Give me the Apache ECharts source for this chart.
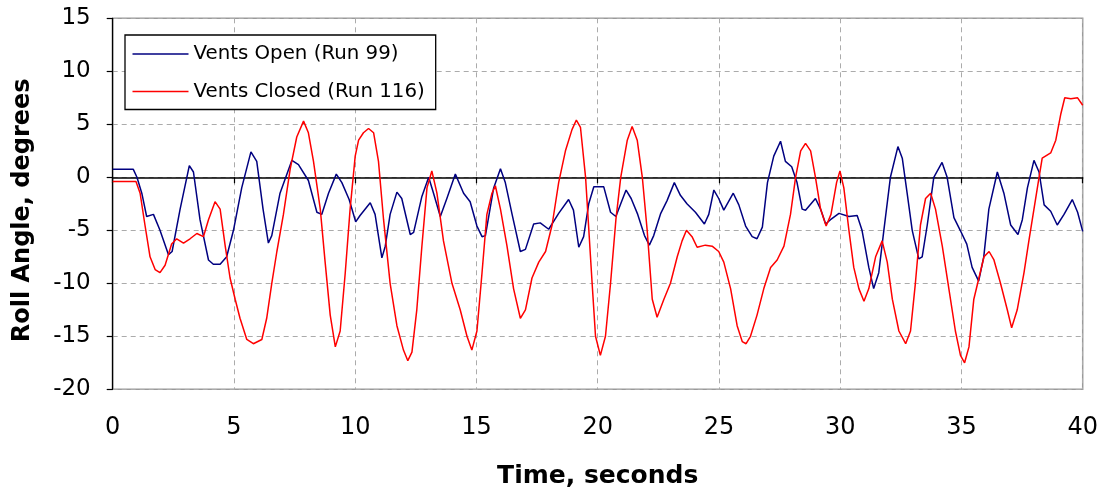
<!DOCTYPE html>
<html>
<head>
<meta charset="utf-8">
<script src="https://cdn.jsdelivr.net/npm/echarts@6/dist/echarts.min.js"></script>
<style>
  html, body { margin: 0; padding: 0; background: #ffffff; }
  #chart { width: 1107px; height: 495px; }
</style>
</head>
<body>
<div id="chart"></div>
<script>
// Roll angle time histories for two test runs
const seriesNames = ['Vents Open (Run 99)', 'Vents Closed (Run 116)'];

const openTime = [0, 0.85, 1.0, 1.2, 1.4, 1.68, 1.95, 2.3, 2.45, 2.78, 3.16, 3.33, 3.6, 3.95, 4.15, 4.43, 4.7, 4.98,
  5.32, 5.7, 5.94, 6.2, 6.42, 6.56, 6.9, 7.39, 7.66, 8.07, 8.42, 8.62, 8.9, 9.22, 9.45, 9.75, 10.02, 10.2,
  10.62, 10.82, 11.1, 11.24, 11.44, 11.72, 11.92, 12.27, 12.41, 12.75, 13.03, 13.23, 13.51, 13.78, 14.13,
  14.47, 14.74, 15.02, 15.23, 15.37, 15.71, 15.99, 16.19, 16.47, 16.81, 17.02, 17.36, 17.63, 17.98, 18.39,
  18.8, 19.0, 19.22, 19.42, 19.63, 19.84, 20.25, 20.53, 20.75, 20.95, 21.17, 21.38, 21.65, 21.93, 22.13,
  22.31, 22.6, 22.86, 23.16, 23.41, 23.68, 24.03, 24.4, 24.58, 24.79, 24.99, 25.2, 25.59, 25.82, 26.1,
  26.37, 26.57, 26.79, 27.0, 27.26, 27.54, 27.74, 28.0, 28.22, 28.43, 28.57, 28.98, 29.19, 29.4, 29.6,
  29.95, 30.36, 30.7, 30.9, 31.18, 31.38, 31.59, 31.8, 32.07, 32.38, 32.56, 32.76, 32.97, 33.24, 33.38,
  33.59, 33.86, 34.2, 34.41, 34.69, 34.95, 35.22, 35.44, 35.71, 35.92, 36.13, 36.48, 36.75, 37.03, 37.33,
  37.51, 37.72, 37.99, 38.2, 38.41, 38.68, 38.95, 39.23, 39.57, 39.79, 40.0];
const openRoll = [0.75, 0.75, 0, -1.5, -3.7, -3.5, -5, -7.3, -7.0, -3, 1.1, 0.5, -4, -7.8, -8.2, -8.2, -7.5, -5,
  -1, 2.4, 1.5, -3, -6.2, -5.5, -1.5, 1.6, 1.2, -0.3, -3.3, -3.5, -1.5, 0.3, -0.5, -2.1, -4.2, -3.6,
  -2.4, -3.5, -7.6, -6.5, -3.5, -1.4, -2, -5.4, -5.2, -1.8, 0, -1.5, -3.7, -2, 0.3,
  -1.5, -2.3, -4.6, -5.6, -5.5, -1, 0.8, -0.5, -3.5, -7, -6.8, -4.4, -4.3, -4.9, -3.4,
  -2.1, -3.1, -6.6, -5.6, -2.5, -0.9, -0.9, -3.3, -3.7, -2.5, -1.2, -2, -3.5, -5.5, -6.4,
  -5.5, -3.4, -2.2, -0.5, -1.7, -2.5, -3.3, -4.4, -3.5, -1.2, -2, -3.1, -1.5, -2.6, -4.6,
  -5.6, -5.8, -4.7, -0.5, 2.0, 3.4, 1.5, 1.0, -0.5, -3.0, -3.1, -2.0, -3, -4.4, -4.0,
  -3.4, -3.7, -3.6, -5, -8.5, -10.5, -9, -5, 0, 2.9, 1.8, -1.5, -5, -7.7, -7.5,
  -4.5, 0, 1.4, 0, -3.8, -5, -6.3, -8.5, -9.8, -7.5, -3, 0.5, -1.5, -4.5, -5.4,
  -4, -1, 1.6, 0.5, -2.6, -3.2, -4.5, -3.5, -2.1, -3.3, -5.1];

const closedTime = [0, 0.96, 1.13, 1.33, 1.54, 1.75, 1.95, 2.16, 2.43, 2.64, 2.92, 3.19, 3.47, 3.74, 3.95, 4.22,
  4.43, 4.64, 4.84, 5.05, 5.25, 5.53, 5.8, 6.15, 6.35, 6.56, 6.77, 7.04, 7.32, 7.59, 7.87, 8.07, 8.28,
  8.56, 8.76, 8.97, 9.18, 9.38, 9.59, 9.79, 10.0, 10.14, 10.34, 10.55, 10.76, 10.96, 11.17, 11.44, 11.72,
  11.99, 12.17, 12.34, 12.54, 12.75, 12.96, 13.16, 13.37, 13.64, 13.99, 14.33, 14.61, 14.81, 15.02, 15.23,
  15.43, 15.64, 15.78, 15.99, 16.26, 16.53, 16.81, 17.02, 17.29, 17.57, 17.85, 18.12, 18.39, 18.67, 18.94,
  19.12, 19.29, 19.5, 19.77, 19.91, 20.11, 20.32, 20.53, 20.75, 20.95, 21.22, 21.42, 21.63, 21.84, 22.04,
  22.25, 22.45, 22.73, 23.0, 23.28, 23.48, 23.66, 23.89, 24.1, 24.44, 24.72, 24.99, 25.2, 25.48, 25.75,
  25.96, 26.12, 26.3, 26.57, 26.85, 27.13, 27.4, 27.68, 27.95, 28.16, 28.37, 28.57, 28.78, 28.98, 29.19,
  29.42, 29.62, 29.85, 29.99, 30.15, 30.36, 30.56, 30.77, 30.98, 31.18, 31.46, 31.73, 31.94, 32.15, 32.42,
  32.7, 32.9, 33.1, 33.31, 33.52, 33.73, 33.93, 34.21, 34.48, 34.75, 34.96, 35.13, 35.31, 35.51, 35.72,
  35.93, 36.14, 36.34, 36.61, 36.89, 37.07, 37.3, 37.58, 37.78, 37.99, 38.2, 38.33, 38.68, 38.89, 39.1,
  39.26, 39.51, 39.79, 40.0];
const closedRoll = [-0.4, -0.4, -1.5, -4.5, -7.5, -8.7, -9, -8.3, -6.3, -5.8, -6.2, -5.8, -5.3, -5.6, -4, -2.3,
  -3, -6.5, -9.5, -11.5, -13.3, -15.3, -15.7, -15.3, -13.3, -10, -7, -3.5, 0.8, 3.8, 5.3, 4.2, 1.5,
  -3, -8, -13, -16, -14.5, -9, -3, 2, 3.5, 4.2, 4.6, 4.2, 1.5, -4, -10, -14,
  -16.3, -17.3, -16.5, -12.5, -6.5, -1, 0.6, -1.5, -6, -10, -12.5, -15, -16.3, -14.5, -9,
  -3.5, -1.5, -0.8, -3, -6.5, -10.5, -13.3, -12.5, -9.5, -8, -7, -4.5, -0.5, 2.5, 4.5,
  5.4, 4.7, 0, -10, -15, -16.8, -15, -10, -4, 0, 3.5, 4.8, 3.5, 0, -5,
  -11.5, -13.2, -11.5, -10, -7.5, -6, -5, -5.6, -6.6, -6.4, -6.5, -7, -8, -10.5, -14,
  -15.5, -15.7, -15, -13, -10.5, -8.5, -7.8, -6.5, -3.5, 0, 2.5, 3.2, 2.5, 0, -3,
  -4.6, -3.5, -0.5, 0.6, -1, -5, -8.5, -10.5, -11.7, -10.5, -7.5, -6, -8, -11.5, -14.5,
  -15.7, -14.5, -10, -4.5, -2, -1.5, -3, -6.5, -10.5, -14.5, -16.8, -17.5, -16, -11.5, -9.5,
  -7.5, -7, -7.8, -10, -12.5, -14.2, -12.5, -9, -6, -3, 0, 1.8, 2.3, 3.5, 6,
  7.5, 7.4, 7.5, 6.8];

// Axis ranges and tick spacing
const timeRange = [0, 40];
const timeStep = 5;
const rollRange = [-20, 15];
const rollStep = 5;

const pair = (xs, ys) => xs.map((x, i) => [x, ys[i]]);

const FONT = 'DejaVu Sans';
const gridLine = { show: true, lineStyle: { color: '#ababab', width: 1, type: [5, 4] } };

const chart = echarts.init(document.getElementById('chart'), null, { renderer: 'canvas' });
chart.setOption({
  animation: false,
  backgroundColor: '#ffffff',
  textStyle: { fontFamily: FONT },
  grid: {
    left: 112.7, right: 24.3, top: 18.3, bottom: 105.7,
    show: true, borderColor: '#9a9a9a', borderWidth: 1.5,
    containLabel: false, outerBoundsMode: 'none'
  },
  legend: {
    orient: 'vertical',
    left: 125, top: 35,
    padding: [9, 11, 8, 7.5],
    itemGap: 17.5,
    icon: 'rect',
    itemWidth: 56, itemHeight: 1.6,
    backgroundColor: '#ffffff',
    borderColor: '#000000', borderWidth: 1.3,
    textStyle: { fontFamily: FONT, fontSize: 19.8, color: '#000000', lineHeight: 20 },
    data: seriesNames
  },
  xAxis: [
    {
      type: 'value', position: 'bottom',
      min: timeRange[0], max: timeRange[1], interval: timeStep,
      axisLine: { show: false, onZero: false },
      axisTick: { show: false },
      axisLabel: { fontFamily: FONT, fontSize: 24, color: '#000000', margin: 26 },
      splitLine: gridLine,
      name: 'Time, seconds', nameLocation: 'middle', nameGap: 75,
      nameTextStyle: { fontFamily: FONT, fontSize: 25, fontWeight: 'bold', color: '#000000' }
    },
    {
      // zero reference line with its tick marks
      type: 'value', position: 'top',
      min: timeRange[0], max: timeRange[1], interval: timeStep,
      axisLine: { show: true, onZero: true, lineStyle: { color: '#000000', width: 1.5 } },
      axisTick: { show: true, inside: true, length: 6, lineStyle: { color: '#000000', width: 1.2 } },
      axisLabel: { show: false },
      splitLine: { show: false }
    }
  ],
  yAxis: {
    type: 'value',
    min: rollRange[0], max: rollRange[1], interval: rollStep,
    axisLine: { show: true, lineStyle: { color: '#000000', width: 1.3 } },
    axisTick: { show: true, length: 6, lineStyle: { color: '#000000', width: 1.2 } },
    axisLabel: { fontFamily: FONT, fontSize: 23, color: '#000000', margin: 22 },
    splitLine: gridLine,
    name: 'Roll Angle, degrees', nameLocation: 'middle', nameGap: 78,
    nameTextStyle: { fontFamily: FONT, fontSize: 24, fontWeight: 'bold', color: '#000000', padding: [0, 13, 0, 0] }
  },
  series: [
    {
      name: seriesNames[0], type: 'line', xAxisIndex: 0,
      data: pair(openTime, openRoll),
      symbol: 'none', showSymbol: false,
      lineStyle: { color: '#000080', width: 1.5 },
      itemStyle: { color: '#000080' }
    },
    {
      name: seriesNames[1], type: 'line', xAxisIndex: 0,
      data: pair(closedTime, closedRoll),
      symbol: 'none', showSymbol: false,
      lineStyle: { color: '#ff0000', width: 1.5 },
      itemStyle: { color: '#ff0000' }
    }
  ]
});
</script>
</body>
</html>
